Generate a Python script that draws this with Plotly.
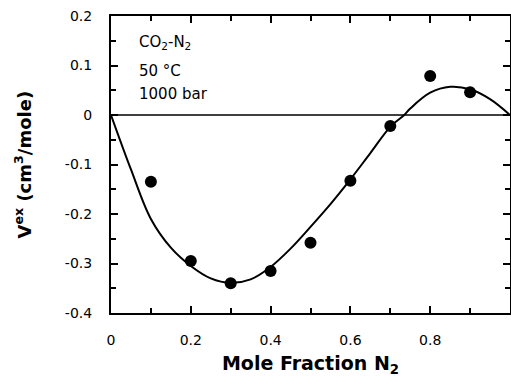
import plotly.graph_objects as go

# Experimental points
x_pts = [0.1, 0.2, 0.3, 0.4, 0.5, 0.6, 0.7, 0.8, 0.9]
y_pts = [-0.135, -0.295, -0.34, -0.315, -0.258, -0.133, -0.022, 0.079, 0.046]

# Fitted curve
x_fit = [0.0, 0.05, 0.1, 0.15, 0.2, 0.25, 0.3, 0.35, 0.4, 0.45, 0.5, 0.55, 0.6,
         0.65, 0.7, 0.735, 0.75, 0.8, 0.85, 0.9, 0.95, 1.0]
y_fit = [0.0, -0.11, -0.21, -0.268, -0.305, -0.33, -0.339, -0.332, -0.307, -0.27,
         -0.226, -0.18, -0.13, -0.077, -0.024, 0.0, 0.013, 0.045, 0.057, 0.052, 0.032, 0.0]

x_ticks = [0, 0.2, 0.4, 0.6, 0.8, 1]
x_labels = ["0", "0.2", "0.4", "0.6", "0.8", "1"]
y_ticks = [-0.4, -0.3, -0.2, -0.1, 0, 0.1, 0.2]
y_labels = ["-0.4", "-0.3", "-0.2", "-0.1", "0", "0.1", "0.2"]

notes = ["CO<sub>2</sub>-N<sub>2</sub>", "50 °C", "1000 bar"]
note_y = [0.146, 0.088, 0.042]

y_title = "<b>V<sup>ex</sup> (cm<sup>3</sup>/mole)</b>"
x_title = "<b>Mole Fraction N<sub>2</sub></b>"

FONT = "DejaVu Sans, Liberation Sans, Arial, sans-serif"

fig = go.Figure()
fig.add_trace(go.Scatter(x=[0, 1], y=[0, 0], mode="lines",
                         line=dict(color="black", width=1.5), hoverinfo="skip"))
fig.add_trace(go.Scatter(x=x_fit, y=y_fit, mode="lines", line_shape="spline",
                         line=dict(color="black", width=2)))
fig.add_trace(go.Scatter(x=x_pts, y=y_pts, mode="markers",
                         marker=dict(color="black", size=12)))

for t, yy in zip(notes, note_y):
    fig.add_annotation(x=0.064, y=yy, text=t, showarrow=False, xanchor="left",
                       font=dict(size=15, color="black", family=FONT))

fig.add_annotation(xref="paper", yref="paper", x=-0.2206, y=0.5, text=y_title,
                   textangle=-90, showarrow=False, xanchor="center", yanchor="middle",
                   font=dict(size=18, color="black", family=FONT))

fig.update_layout(
    width=511, height=379,
    margin=dict(l=111, r=1, t=16, b=66, autoexpand=False),
    plot_bgcolor="white", paper_bgcolor="white",
    showlegend=False,
    font=dict(family=FONT, color="black", size=14),
)
fig.update_xaxes(
    range=[0, 1], tickvals=x_ticks, ticktext=x_labels, automargin=False,
    ticks="inside", ticklen=7, tickwidth=1.5, tickcolor="black",
    minor=dict(dtick=0.1, tick0=0, ticks="inside", ticklen=5, tickwidth=1.5, tickcolor="black"),
    showline=True, linecolor="black", linewidth=2, mirror="ticks",
    showgrid=False, zeroline=False,
    tickfont=dict(size=14), ticklabelstandoff=13,
    title=dict(text=x_title, font=dict(size=19), standoff=10),
)
fig.update_yaxes(
    range=[-0.4, 0.2], tickvals=y_ticks, ticktext=y_labels, automargin=False,
    ticks="inside", ticklen=7, tickwidth=1.5, tickcolor="black",
    minor=dict(dtick=0.05, tick0=0, ticks="inside", ticklen=5, tickwidth=1.5, tickcolor="black"),
    showline=True, linecolor="black", linewidth=2, mirror="ticks",
    showgrid=False, zeroline=False,
    tickfont=dict(size=14), ticklabelstandoff=14,
)

fig.write_html("out.html", config={"displayModeBar": False},
               post_script="document.body.style.margin='0';document.body.style.padding='0';")
